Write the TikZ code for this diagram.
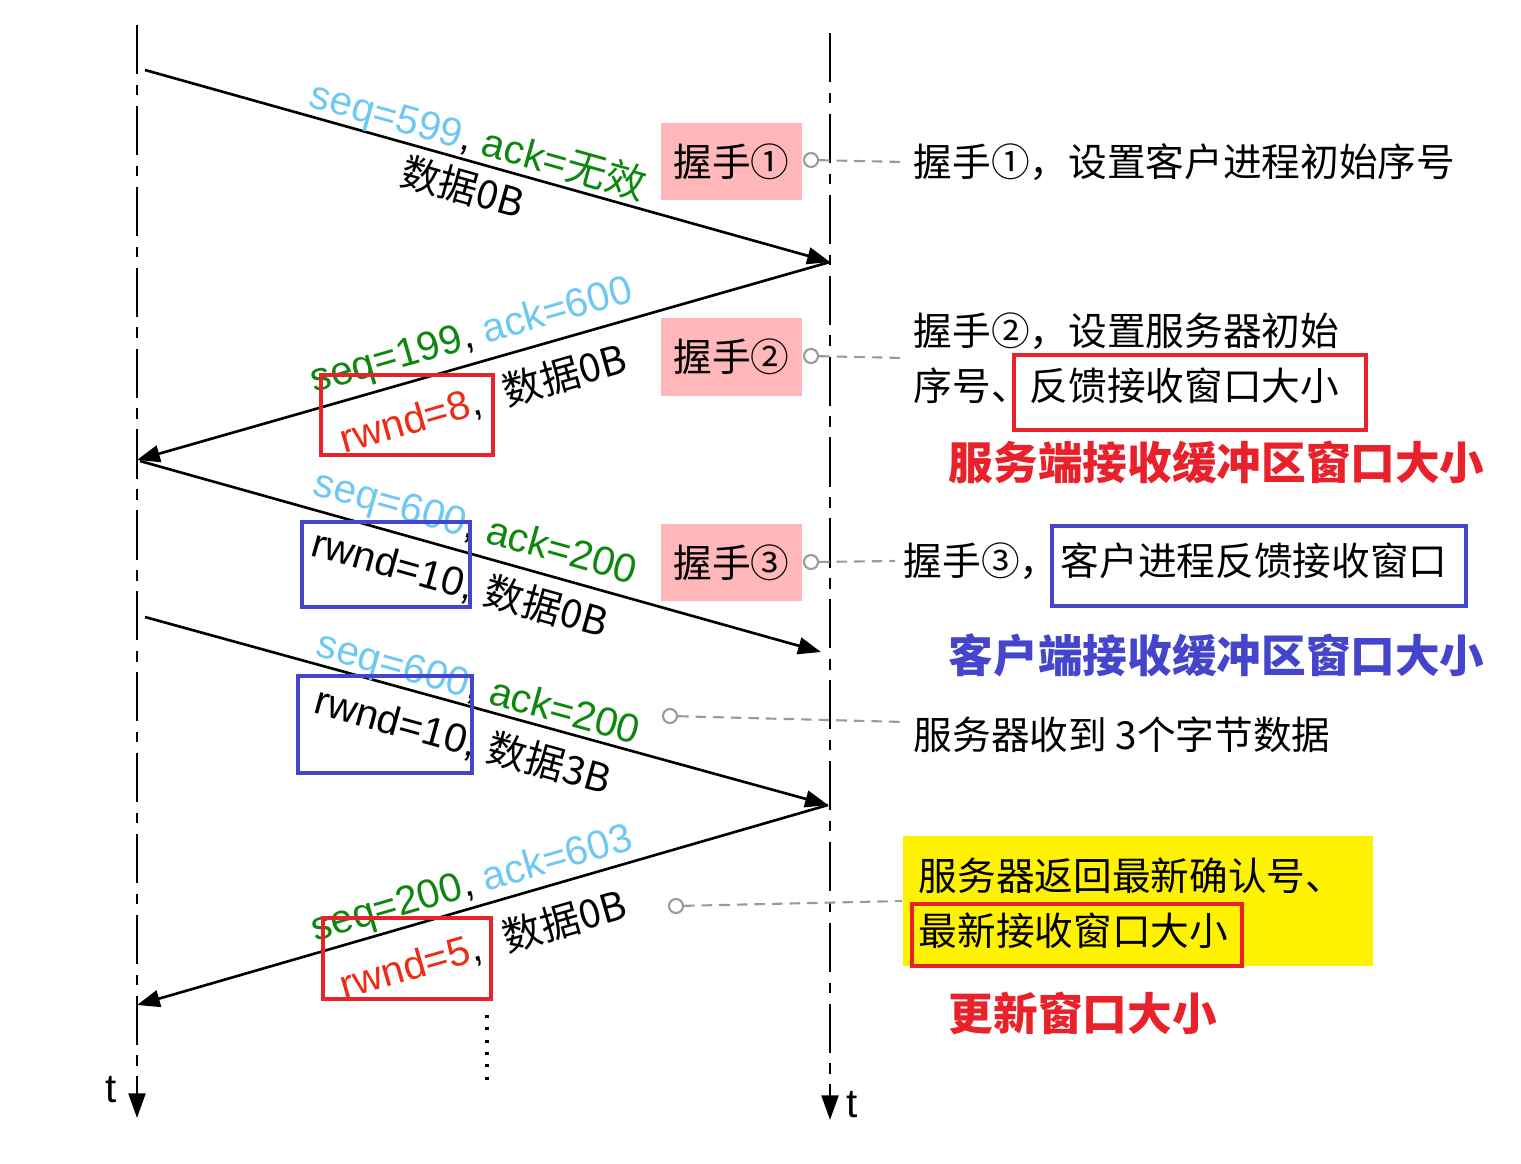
\documentclass[tikz,border=0pt]{standalone}
\usepackage{fontspec}
\setmainfont{Liberation Sans}
\newfontfamily\cjk{Noto Sans CJK SC}
\usetikzlibrary{arrows.meta}
\definecolor{seqblue}{HTML}{6EC8F2}
\definecolor{ackgreen}{HTML}{0E870E}
\definecolor{rwndred}{HTML}{EE2B14}
\definecolor{boxred}{HTML}{E8212B}
\definecolor{boxblue}{HTML}{4545CC}
\definecolor{hspink}{HTML}{FFB7B9}
\definecolor{conngray}{HTML}{9A9A9A}
\newcommand{\zh}[1]{{\cjk\fontsize{11.2}{14}\selectfont #1}}

\begin{document}
\begin{tikzpicture}[x=0.01cm,y=-0.01cm,
	life/.style={line width=0.7pt, dash pattern=on 14pt off 3pt on 3pt off 3pt},
	msg/.style={line width=0.75pt, -{Triangle[length=6.5pt,width=4.8pt]}},
	lbl/.style={inner sep=0pt, font=\fontsize{11.5}{14}\selectfont},
	hs/.style={fill=hspink, minimum width=1.41cm, minimum height=0.77cm, inner sep=0pt, font=\cjk\fontsize{11}{13}\selectfont},
	dot/.style={circle, draw=conngray, fill=white, line width=0.6pt, minimum size=0.14cm, inner sep=0pt},
	conn/.style={draw=conngray, line width=0.6pt, dash pattern=on 3pt off 2pt},
	note/.style={anchor=west, inner sep=0.08cm, align=left, font=\cjk\fontsize{11}{15.6}\selectfont},
	head/.style={anchor=west, inner sep=0pt, font=\cjk\bfseries\fontsize{12.7}{15}\selectfont},
	redbox/.style={draw=boxred, line width=1.25pt},
	bluebox/.style={draw=boxblue, line width=1.25pt}]
	\useasboundingbox (0,0) rectangle (1521,1163);
	\coordinate (ltop) at (137,25);
	\coordinate (lbot) at (137,1118);
	\coordinate (rtop) at (830,33);
	\coordinate (rbot) at (830,1120);
	\draw[life, -{Triangle[length=7pt,width=4.8pt]}] (ltop) -- (lbot);
	\draw[life, -{Triangle[length=7pt,width=4.8pt]}] (rtop) -- (rbot);
	\node[lbl] (tl) at (111,1090) {t};
	\node[lbl] (tr) at (852,1105) {t};
	\coordinate (c1) at (145,70);
	\coordinate (s1) at (830,262);
	\coordinate (c2) at (137,460);
	\coordinate (c3) at (140,461);
	\coordinate (s3) at (821,652);
	\coordinate (c4) at (145,617);
	\coordinate (s4) at (828,805);
	\coordinate (c5) at (137,1005);
	\draw[msg] (c1) -- (s1);
	\draw[msg] (s1) -- (c2);
	\draw[msg] (c3) -- (s3);
	\draw[msg] (c4) -- (s4);
	\draw[msg] (s4) -- (c5);
	\draw[line width=1.3pt, dash pattern=on 0.9pt off 2.6pt] (487,1015) -- (487,1085);
	\node[lbl, rotate=-15.7] (m1a) at (478,141) {\textcolor{seqblue}{seq=599}, \textcolor{ackgreen}{ack=\cjk 无效}};
	\node[lbl, rotate=-15.7] (m1b) at (463,187) {\zh{数据0B}};
	\node[lbl, rotate=16] (m2a) at (472,337) {\textcolor{ackgreen}{seq=199}, \textcolor{seqblue}{ack=600}};
	\node[lbl, rotate=16] (m2b) at (483,399) {\textcolor{rwndred}{rwnd=8},\hspace{0.6em}\zh{数据0B}};
	\node[lbl, rotate=-15.7] (m3a) at (475,529) {\textcolor{seqblue}{seq=600}, \textcolor{ackgreen}{ack=200}};
	\node[lbl, rotate=-15.7] (m3b) at (460,583) {rwnd=10, \zh{数据0B}};
	\node[lbl, rotate=-15.4] (m4a) at (478,690) {\textcolor{seqblue}{seq=600}, \textcolor{ackgreen}{ack=200}};
	\node[lbl, rotate=-15.4] (m4b) at (463,740) {rwnd=10, \zh{数据3B}};
	\node[lbl, rotate=16.1] (m5a) at (472,885) {\textcolor{ackgreen}{seq=200}, \textcolor{seqblue}{ack=603}};
	\node[lbl, rotate=16.1] (m5b) at (483,945) {\textcolor{rwndred}{rwnd=5},\hspace{0.6em}\zh{数据0B}};
	\draw[redbox] (321,375) rectangle (493,455);
	\draw[bluebox] (302,522) rectangle (470,607);
	\draw[bluebox] (298,676) rectangle (472,773);
	\draw[redbox] (323,918) rectangle (491,999);
	\node[hs] (hs1) at (731.5,161.5) {握手①};
	\node[hs] (hs2) at (731.5,357) {握手②};
	\node[hs] (hs3) at (731.5,562.5) {握手③};
	\node[fill=yellow, minimum width=4.70cm, minimum height=1.30cm, inner sep=0pt] (yb) at (1138,901) {};
	\node[note] (t1) at (905,162) {握手①，设置客户进程初始序号};
	\node[note] (t2) at (905,358) {握手②，设置服务器初始\\序号、反馈接收窗口大小};
	\node[note] (t3) at (895,561) {握手③，};
	\node[note] (t3b) at (1052,561) {客户进程反馈接收窗口};
	\node[note] (t4) at (905,735) {服务器收到 3个字节数据};
	\node[note] (t5) at (910,903) {服务器返回最新确认号、\\最新接收窗口大小};
	\node[head, text=boxred] (h1) at (948,462) {服务端接收缓冲区窗口大小};
	\node[head, text=boxblue] (h2) at (948,655) {客户端接收缓冲区窗口大小};
	\node[head, text=boxred] (h3) at (948,1013) {更新窗口大小};
	\draw[redbox] (1014,355) rectangle (1366,430);
	\draw[bluebox] (1052,526) rectangle (1466,606);
	\draw[redbox] (912,904) rectangle (1242,966);
	\node[dot] (p1) at (811,160) {};
	\node[dot] (p2) at (811,356) {};
	\node[dot] (p3) at (811,562) {};
	\node[dot] (p4) at (670,716) {};
	\node[dot] (p5) at (676,906) {};
	\draw[conn] (p1) -- (t1.west);
	\draw[conn] (p2) -- (t2.west);
	\draw[conn] (p3) -- (t3.west);
	\draw[conn] (p4) -- ([yshift=0.13cm]t4.west);
	\draw[conn] (p5) -- (yb.west);
\end{tikzpicture}
\end{document}
